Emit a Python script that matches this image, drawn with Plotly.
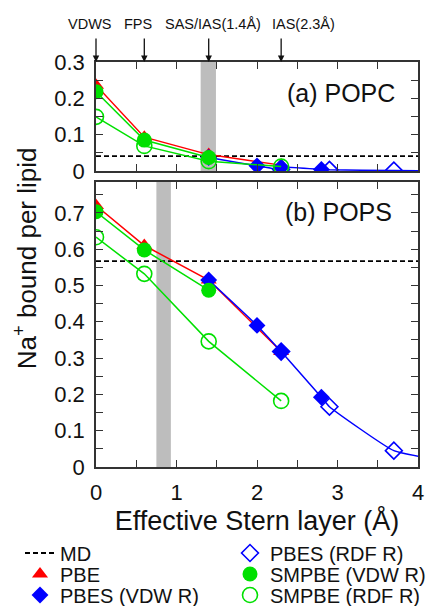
import plotly.graph_objects as go

# effective Stern layer thickness (Angstrom)
x_pbe = [0, 0.6, 1.4, 2.3]
x_smpbe_vdw = [0, 0.6, 1.4]
x_smpbe_rdf = [0, 0.6, 1.4, 2.3]
x_pbes_vdw = [1.4, 2.0, 2.3, 2.8]
x_pbes_rdf = [2.3, 2.9, 3.7, 4.5]

# (a) POPC
popc_md = 0.041
popc_pbe = [0.236, 0.093, 0.045, 0.016]
popc_smpbe_vdw = [0.218, 0.085, 0.037]
popc_smpbe_rdf = [0.149, 0.069, 0.027, 0.012]
popc_pbes_vdw = [0.037, 0.014, 0.010, 0.004]
popc_pbes_rdf = [0.004, 0.003, 0.001, 0.0]

# (b) POPS
pops_md = 0.567
pops_pbe = [0.72, 0.61, 0.515, 0.318]
pops_smpbe_vdw = [0.703, 0.598, 0.487]
pops_smpbe_rdf = [0.633, 0.532, 0.346, 0.182]
pops_pbes_vdw = [0.515, 0.39, 0.318, 0.192]
pops_pbes_rdf = [0.318, 0.166, 0.045, 0.01]

surfaces = ["VDWS", "FPS", "SAS/IAS(1.4Å)", "IAS(2.3Å)"]
surface_x = [0, 0.6, 1.4, 2.3]
surface_label_shift = [-6, -6, 4, 22]   # px, text is nudged off the arrows

band_popc = (1.3, 1.49)
band_pops = (0.75, 0.93)
x_range = [0, 4]

FONT = "Liberation Sans, Arial, sans-serif"
RED, BLUE, GREEN = "#ff0000", "#0000ff", "#00e000"
INK = "#111"

# the page body keeps its default 8px margin, so the figure is shrunk by that much
PAD = 8
W, H = 434 - PAD, 606 - PAD

fig = go.Figure()


def add_panel(xa, ya, md, pbe, pbes_vdw, pbes_rdf, sm_vdw, sm_rdf, legend):
    # dashed MD reference
    fig.add_trace(go.Scatter(x=x_range, y=[md, md], mode="lines", name="MD",
                             line=dict(color="black", dash="5px,3px", width=1.8),
                             xaxis=xa, yaxis=ya, showlegend=legend, legend="legend"))
    # PBE
    fig.add_trace(go.Scatter(x=x_pbe, y=pbe, mode="lines", line=dict(color=RED, width=1.5),
                             xaxis=xa, yaxis=ya, showlegend=False))
    fig.add_trace(go.Scatter(x=x_pbe, y=pbe, mode="markers", name="PBE",
                             marker=dict(symbol="triangle-up", size=14, color=RED),
                             xaxis=xa, yaxis=ya, showlegend=legend, legend="legend2"))
    # PBES: one curve through both radius sets
    pts = sorted(zip(x_pbes_vdw + x_pbes_rdf, pbes_vdw + pbes_rdf))
    fig.add_trace(go.Scatter(x=[p[0] for p in pts], y=[p[1] for p in pts], mode="lines",
                             line=dict(color=BLUE, width=1.5, shape="spline", smoothing=0.4),
                             xaxis=xa, yaxis=ya, showlegend=False))
    fig.add_trace(go.Scatter(x=x_pbes_vdw, y=pbes_vdw, mode="markers", name="PBES (VDW R)",
                             marker=dict(symbol="diamond", size=13, color=BLUE),
                             xaxis=xa, yaxis=ya, showlegend=legend, legend="legend3"))
    fig.add_trace(go.Scatter(x=x_pbes_rdf, y=pbes_rdf, mode="markers", name="PBES (RDF R)",
                             marker=dict(symbol="diamond-open", size=13, color=BLUE,
                                         line=dict(width=1.6)),
                             xaxis=xa, yaxis=ya, showlegend=legend, legend="legend4"))
    # SMPBE
    fig.add_trace(go.Scatter(x=x_smpbe_vdw, y=sm_vdw, mode="lines", line=dict(color=GREEN, width=1.5),
                             xaxis=xa, yaxis=ya, showlegend=False))
    fig.add_trace(go.Scatter(x=x_smpbe_vdw, y=sm_vdw, mode="markers", name="SMPBE (VDW R)",
                             marker=dict(symbol="circle", size=15, color=GREEN),
                             xaxis=xa, yaxis=ya, showlegend=legend, legend="legend5"))
    fig.add_trace(go.Scatter(x=x_smpbe_rdf, y=sm_rdf, mode="lines", line=dict(color=GREEN, width=1.5),
                             xaxis=xa, yaxis=ya, showlegend=False))
    fig.add_trace(go.Scatter(x=x_smpbe_rdf, y=sm_rdf, mode="markers", name="SMPBE (RDF R)",
                             marker=dict(symbol="circle-open", size=15, color=GREEN,
                                         line=dict(width=1.6)),
                             xaxis=xa, yaxis=ya, showlegend=legend, legend="legend6"))


add_panel("x", "y", popc_md, popc_pbe, popc_pbes_vdw, popc_pbes_rdf,
          popc_smpbe_vdw, popc_smpbe_rdf, False)
add_panel("x2", "y2", pops_md, pops_pbe, pops_pbes_vdw, pops_pbes_rdf,
          pops_smpbe_vdw, pops_smpbe_rdf, True)

tick_style = dict(ticks="inside", ticklen=7, tickwidth=1.3, tickcolor="#333")
axis_common = dict(showline=True, mirror="ticks", linecolor="#333", linewidth=1.5,
                   showgrid=False, zeroline=False, ticklabelstandoff=5,
                   tickfont=dict(family=FONT, size=22, color=INK), **tick_style)

fig.update_layout(
    width=W, height=H,
    margin=dict(l=96 - PAD, r=16, t=62 - PAD, b=139, autoexpand=False),
    paper_bgcolor="white", plot_bgcolor="white",
    font=dict(family=FONT, color=INK),
    xaxis=dict(axis_common, domain=[0, 1], anchor="y", range=x_range, dtick=1,
               showticklabels=False, minor=dict(dtick=0.5, **tick_style)),
    yaxis=dict(axis_common, domain=[0.731, 1], anchor="x", range=[0, 0.3], dtick=0.1,
               minor=dict(dtick=0.05, **tick_style)),
    xaxis2=dict(axis_common, domain=[0, 1], anchor="y2", range=x_range, dtick=1,
                minor=dict(dtick=0.5, **tick_style),
                title=dict(text="Effective Stern layer (Å)", standoff=1,
                           font=dict(family=FONT, size=27, color=INK))),
    yaxis2=dict(axis_common, domain=[0, 0.7037], anchor="x2", range=[0, 0.785], dtick=0.1,
                minor=dict(dtick=0.05, **tick_style)),
)

# grey bands
for xref, yref, band in (("x", "y domain", band_popc), ("x2", "y2 domain", band_pops)):
    fig.add_shape(type="rect", xref=xref, yref=yref, x0=band[0], x1=band[1], y0=0, y1=1,
                  fillcolor="#bdbdbd", line_width=0, layer="below")

# panel labels
fig.add_annotation(text="(a) POPC", xref="x domain", yref="y domain", x=0.936, y=0.715,
                   xanchor="right", yanchor="middle", showarrow=False,
                   font=dict(family=FONT, size=25, color=INK))
fig.add_annotation(text="(b) POPS", xref="x2 domain", yref="y2 domain", x=0.925, y=0.895,
                   xanchor="right", yanchor="middle", showarrow=False,
                   font=dict(family=FONT, size=25, color=INK))

# shared y title
fig.add_annotation(text="Na<sup>+</sup> bound per lipid", xref="paper", yref="paper",
                   x=-0.22, y=0.516, xanchor="center", yanchor="middle", textangle=-90,
                   showarrow=False, font=dict(family=FONT, size=26, color=INK))

# surface markers above the top panel
for name, sx, shift in zip(surfaces, surface_x, surface_label_shift):
    fig.add_annotation(text=name, x=sx, xref="x", yref="paper", y=1.094, xshift=shift,
                       xanchor="center", yanchor="middle", showarrow=False,
                       font=dict(family=FONT, size=14.5, color=INK))
    fig.add_annotation(text="", x=sx, xref="x", yref="y domain", y=1.0,
                       ax=0, ay=-25, showarrow=True, arrowhead=2, arrowsize=1,
                       arrowwidth=1.3, arrowcolor=INK)

# legend: one box per entry, laid out as a 2 x 3 grid under the plot
legend_common = dict(xref="container", yref="container", xanchor="left", yanchor="middle",
                     bgcolor="rgba(0,0,0,0)", itemclick=False,
                     font=dict(family=FONT, size=20, color=INK))
col_x = [(20 - PAD) / W, (230 - PAD) / W]
row_y = [1 - (py - PAD) / H for py in (553, 574, 595)]
fig.update_layout(
    legend=dict(legend_common, x=col_x[0], y=row_y[0]),
    legend2=dict(legend_common, x=col_x[0], y=row_y[1]),
    legend3=dict(legend_common, x=col_x[0], y=row_y[2]),
    legend4=dict(legend_common, x=col_x[1], y=row_y[0]),
    legend5=dict(legend_common, x=col_x[1], y=row_y[1]),
    legend6=dict(legend_common, x=col_x[1], y=row_y[2]),
)

fig.write_html("out.html")
